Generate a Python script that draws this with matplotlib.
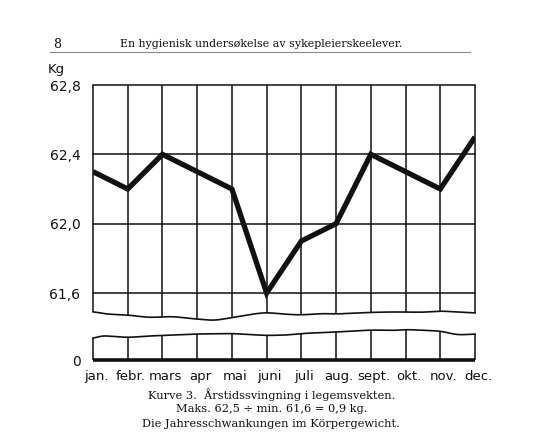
import numpy as np
import matplotlib
matplotlib.use("Agg")
import matplotlib.pyplot as plt
from matplotlib.transforms import ScaledTranslation

# ---- data ----
months = ["jan.", "febr.", "mars", "apr", "mai", "juni", "juli", "aug.", "sept.", "okt.", "nov.", "dec."]
weight = [62.3, 62.2, 62.4, 62.3, 62.2, 61.6, 61.9, 62.0, 62.4, 62.3, 62.2, 62.5]
yticks = [61.6, 62.0, 62.4, 62.8]
ytick_labels = ["61,6", "62,0", "62,4", "62,8"]
header_page = "8"
header_title = "En hygienisk undersøkelse av sykepleierskeelever."
caption1 = "Kurve 3.  Årstidssvingning i legemsvekten."
caption2 = "Maks. 62,5 ÷ min. 61,6 = 0,9 kg."
caption3 = "Die Jahresschwankungen im Körpergewicht."

W, H = 540, 444
fig = plt.figure(figsize=(W / 100, H / 100), dpi=100)

def fx(px):
    return px / W

def fy(py):
    return 1 - py / H

INK = "#111111"
SANS = "DejaVu Sans"
SERIF = "DejaVu Serif"

x = np.arange(len(months))
xs = np.linspace(0, 11, 400)

def smooth(px_pts, vals):
    v = np.interp(xs, px_pts, vals)
    k = np.ones(15) / 15
    vp = np.pad(v, 7, mode="edge")
    return np.convolve(vp, k, mode="valid")

# ---- upper axes (kg scale) ----
left_px, right_px = 93, 475
top_px, bot_px = 85, 322
ax = fig.add_axes([fx(left_px), fy(bot_px), fx(right_px - left_px), (bot_px - top_px) / H])
kg_per_px = 1.2 / (293 - 85)
ymin = 62.8 - (bot_px - top_px) * kg_per_px
ax.set_xlim(0, 11)
ax.set_ylim(ymin, 62.8)
for s in ax.spines.values():
    s.set_visible(False)

# wavy lower edge (decorative break)
wave_xi = [0, 0.35, 1.0, 1.6, 2.3, 2.8, 3.5, 4.1, 4.6, 5.0, 5.45, 5.95, 6.6, 7.0, 7.9, 8.5, 9.0, 9.5, 10.0, 10.5, 11]
wave_py = [311.5, 314, 315, 317.5, 316.5, 318.5, 320.5, 317, 314, 312.5, 314, 315, 313.5, 314, 312.5, 312, 312, 312.3, 311, 312, 313]
wave_kg = 62.8 - (smooth(wave_xi, wave_py) - 85) * kg_per_px
ax.plot(xs, wave_kg, color=INK, lw=1.2, clip_on=False)

lw_grid = 1.1
for xi in x:
    yb = np.interp(xi, xs, wave_kg)
    ax.plot([xi, xi], [yb, 62.8], color=INK, lw=lw_grid, clip_on=False, solid_capstyle="butt")
for yv in yticks:
    ax.plot([0, 11], [yv, yv], color=INK, lw=lw_grid, clip_on=False)

ax.plot(x, weight, color=INK, lw=3.8, solid_joinstyle="miter", solid_capstyle="butt", zorder=5)

ax.set_xticks([])
ax.set_yticks(yticks)
ax.set_yticklabels(ytick_labels, fontsize=10, family=SANS, color=INK)
ax.tick_params(axis="y", length=0, pad=9)

# ---- lower axes (zero baseline) ----
l_top_px, l_bot_px = 326, 360
ax2 = fig.add_axes([fx(left_px), fy(l_bot_px), fx(right_px - left_px), (l_bot_px - l_top_px) / H])
ax2.set_xlim(0, 11)
ax2.set_ylim(0, l_bot_px - l_top_px)
for s in ax2.spines.values():
    s.set_visible(False)
lw_xi = [0, 0.2, 0.6, 1.0, 1.6, 2.0, 3.0, 4.0, 5.0, 5.6, 6.0, 7.0, 8.0, 8.7, 9.0, 10.0, 10.5, 11]
lw_py = [339, 335.5, 336.5, 337.5, 336, 335.5, 334, 333.5, 335.5, 335, 333.5, 332, 330, 330.5, 329.5, 331, 335, 334]
lw_h = l_bot_px - smooth(lw_xi, lw_py)
ax2.plot(xs, lw_h, color=INK, lw=1.2, clip_on=False)
for xi in x:
    yt = np.interp(xi, xs, lw_h)
    ax2.plot([xi, xi], [0, yt], color=INK, lw=lw_grid, clip_on=False, solid_capstyle="butt")
ax2.plot([0, 11], [0, 0], color=INK, lw=2.6, clip_on=False, solid_capstyle="butt")
ax2.set_yticks([0])
ax2.set_yticklabels(["0"], fontsize=10, family=SANS, color=INK)
ax2.tick_params(axis="y", length=0, pad=9)
ax2.set_xticks(x)
ax2.set_xticklabels(months, fontsize=9.5, family=SANS, color=INK)
ax2.tick_params(axis="x", length=0, pad=7)
shift = ScaledTranslation(3 / 100, 0, fig.dpi_scale_trans)
for lab in ax2.get_xticklabels():
    lab.set_transform(lab.get_transform() + shift)

# ---- texts ----
fig.text(fx(48), fy(70), "Kg", fontsize=9.5, family=SANS, color=INK, va="center", ha="left")
fig.text(fx(53), fy(45), header_page, fontsize=9, family=SERIF, color=INK, va="center", ha="left")
fig.text(fx(261), fy(44), header_title, fontsize=7.9, family=SERIF, color=INK, va="center", ha="center")
fig.add_artist(plt.Line2D([fx(50), fx(470)], [fy(52.5), fy(52.5)], color="#888888", lw=0.8))
fig.text(fx(272), fy(395), caption1, fontsize=8.2, family=SERIF, color=INK, va="center", ha="center")
fig.text(fx(272), fy(409), caption2, fontsize=8.2, family=SERIF, color=INK, va="center", ha="center")
fig.text(fx(271), fy(424), caption3, fontsize=8.2, family=SERIF, color=INK, va="center", ha="center")

fig.savefig("out.png", dpi=100, facecolor="white")
